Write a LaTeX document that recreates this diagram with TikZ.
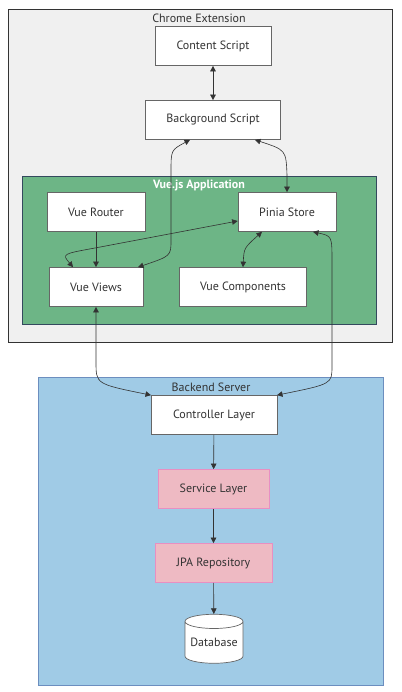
\documentclass[tikz,border=0pt]{standalone}
\usepackage{fontspec}
\setmainfont{PT Sans}
\usepackage{xcolor}
\usetikzlibrary{arrows.meta,shapes.geometric}

\definecolor{linegray}{HTML}{333333}
\definecolor{boxborder}{HTML}{666666}
\definecolor{chromefill}{HTML}{F0F0F0}
\definecolor{vuefill}{HTML}{6DB586}
\definecolor{vueborder}{HTML}{34495E}
\definecolor{backfill}{HTML}{A0CBE6}
\definecolor{backborder}{HTML}{6C8EBF}
\definecolor{layerfill}{HTML}{EEBAC3}
\definecolor{layerborder}{HTML}{E88FC2}

\tikzset{
  block/.style={draw=boxborder, fill=white, line width=0.7pt, minimum height=39pt,
    inner sep=0pt, font=\fontsize{12}{14}\selectfont, text=linegray},
  layer/.style={block, fill=layerfill, draw=layerborder},
  group/.style={line width=0.9pt, inner sep=0pt},
  grouptitle/.style={font=\fontsize{12}{14}\selectfont, text=linegray},
  link/.style={draw=linegray, line width=0.6pt, -{Triangle[length=5.5pt,width=5.5pt]}},
  twoway/.style={link, {Triangle[length=5.5pt,width=5.5pt]}-{Triangle[length=5.5pt,width=5.5pt]}}
}

\begin{document}
\begin{tikzpicture}[x=1pt, y=-1pt]
    \useasboundingbox (0,0) rectangle (401,692);

    % Groups
    \node (chrome) [group, draw=linegray, fill=chromefill, minimum width=384pt, minimum height=333pt] at (200,175.5) {};
    \node[grouptitle] at (199,18) {Chrome Extension};

    \node (vueapp) [group, draw=vueborder, fill=vuefill, minimum width=354pt, minimum height=148pt] at (199,250) {};
    \node[grouptitle, text=white, font=\fontsize{12}{14}\selectfont\bfseries] at (199,185) {Vue.js Application};

    \node (backend) [group, draw=backborder, fill=backfill, minimum width=345pt, minimum height=308pt] at (210.5,531) {};
    \node[grouptitle] at (211,387) {Backend Server};

    % Extension parts
    \node (content) [block, minimum width=116pt] at (213,46) {Content Script};
    \node (bgscript) [block, minimum width=135pt] at (213,120) {Background Script};

    % Vue.js parts
    \node (router) [block, minimum width=98pt] at (96,212) {Vue Router};
    \node (pinia) [block, minimum width=98pt] at (287,212) {Pinia Store};
    \node (views) [block, minimum width=94pt] at (96,287) {Vue Views};
    \node (comps) [block, minimum width=127pt] at (243,287) {Vue Components};

    % Backend parts
    \node (ctrl) [block, minimum width=126pt] at (214,415) {Controller Layer};
    \node (service) [layer, minimum width=111pt] at (213.5,489) {Service Layer};
    \node (jpa) [layer, minimum width=117pt] at (213.5,563) {JPA Repository};
    \node (db) [block, shape=cylinder, shape border rotate=90, aspect=0.3,
        minimum width=58pt, minimum height=49pt] at (214,642.5) {Database};

    % Connectors
    \draw[twoway] (content) -- (bgscript);
    \draw[twoway] ([xshift=-23pt]bgscript.south) .. controls (171,150) .. (171,172)
        -- (171,240) .. controls (171,256) .. ([xshift=42pt]views.north);
    \draw[twoway] ([xshift=42pt]bgscript.south) .. controls (286,150) .. (287,175)
        -- (pinia.north);
    \draw[link] (router) -- (views);
    \draw[twoway] ([xshift=-23pt]views.north) .. controls (62,254) .. (95,248)
        -- ([yshift=-9pt]pinia.west);
    \draw[twoway] ([xshift=-25pt]pinia.south) .. controls (244,248) .. (comps.north);
    \draw[twoway] (views.south) -- (96,362) .. controls (96,384) .. ([xshift=-63pt]ctrl.north);
    \draw[twoway] ([xshift=26pt]pinia.south) .. controls (332,236) .. (332,262)
        -- (332,366) .. controls (332,384) .. ([xshift=63pt]ctrl.north);
    \draw[link] (ctrl) -- (service);
    \draw[link] (service) -- (jpa);
    \draw[link] (jpa) -- (db);
\end{tikzpicture}
\end{document}
